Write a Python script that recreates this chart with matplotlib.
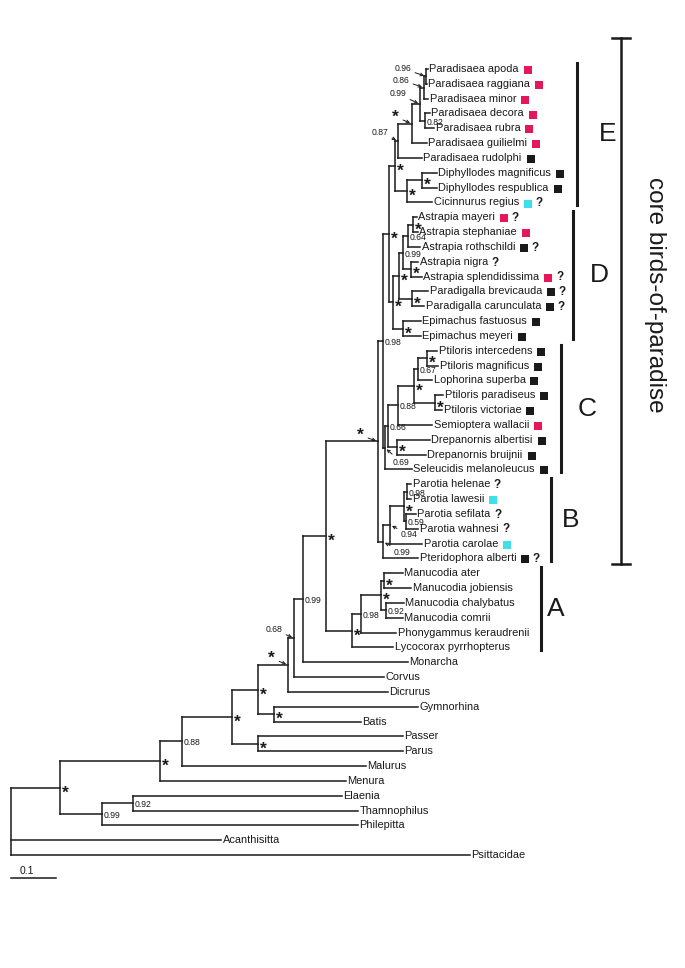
import matplotlib
matplotlib.use('Agg')
import matplotlib.pyplot as plt

# ---- data: tree (newick, branch lengths in substitutions/site) ----
clade_E = ("((((((Paradisaea apoda:0.0044,Paradisaea raggiana:0.0022)E5:0.0044,"
           "Paradisaea minor:0.0089)E4:0.0089,"
           "(Paradisaea decora:0.0111,Paradisaea rubra:0.0200)E6:0.0111)E3:0.0178,"
           "Paradisaea guilielmi:0.0333)E2:0.0311,"
           "Paradisaea rudolphi:0.0533)E1:0.0067,"
           "((Diphyllodes magnificus:0.0333,Diphyllodes respublica:0.0333)E8:0.0333,"
           "Cicinnurus regius:0.0556)E7:0.0267)E")
clade_D = ("(((((Astrapia mayeri:0.0089,Astrapia stephaniae:0.0111)D4:0.0111,"
           "Astrapia rothschildi:0.0267)D3:0.0111,"
           "(Astrapia nigra:0.0156,Astrapia splendidissima:0.0244)D5:0.0178)D2:0.0089,"
           "(Paradigalla brevicauda:0.0356,Paradigalla carunculata:0.0267)D6:0.0289)D1:0.0133,"
           "(Epimachus fastuosus:0.0400,Epimachus meyeri:0.0400)D7:0.0222)D")
clade_C = ("((((((Ptiloris intercedens:0.0222,Ptiloris magnificus:0.0244)C5:0.0200,"
           "Lophorina superba:0.0311)C4:0.0089,"
           "(Ptiloris paradiseus:0.0178,Ptiloris victoriae:0.0156)C6:0.0467)C3:0.0356,"
           "Semioptera wallacii:0.0756)C2:0.0222,"
           "(Drepanornis albertisi:0.0733,Drepanornis bruijnii:0.0644)C7:0.0200)C1:0.0067,"
           "Seleucidis melanoleucus:0.0600)C")
clade_B = ("((((Parotia helenae:0.0089,Parotia lawesii:0.0089)B3:0.0067,"
           "(Parotia sefilata:0.0222,Parotia wahnesi:0.0267)B4:0.0044)B2:0.0311,"
           "Parotia carolae:0.0711)B1:0.0156,"
           "Pteridophora alberti:0.0778)B")
clade_A = ("((((Manucodia ater:0.0422,Manucodia jobiensis:0.0600)A3:0.0067,"
           "(Manucodia chalybatus:0.0400,Manucodia comrii:0.0378)A4:0.0111)A2:0.0444,"
           "Phonygammus keraudrenii:0.0778)A1:0.0200,"
           "Lycocorax pyrrhopterus:0.0911)A")
core = ("(((" + clade_E + ":0.0133," + clade_D + ":0.0089)DE:0.0133,"
        + clade_C + ":0.0044)CDE:0.0111," + clade_B + ":0.0111)CORE")
tree = ("((((((((((" + core + ":0.1156," + clade_A + ":0.0578)N9:0.0511,"
        "Monarcha:0.2333)N8:0.0200,Corvus:0.2000)N7:0.0133,Dicrurus:0.2222)N6:0.0667,"
        "(Gymnorhina:0.3200,Batis:0.1933)N10:0.0356)N5:0.0578,"
        "(Passer:0.3222,Parus:0.3222)N11:0.0578)N4:0.1111,Malurus:0.4089)N3:0.0489,"
        "Menura:0.4133)N2:0.2222,"
        "((Elaenia:0.4644,Thamnophilus:0.5000)N13:0.0689,Philepitta:0.5689)N12:0.0933)N1:0.1089,"
        "Acanthisitta:0.4667,Psittacidae:1.0200)root;")

support = {'E5': '0.96', 'E4': '0.86', 'E3': '0.99', 'E2': '*', 'E1': '0.87', 'E6': '0.82',
           'E': '*', 'E7': '*', 'E8': '*', 'DE': '*', 'D': '*', 'D1': '*', 'D2': '0.99',
           'D3': '0.64', 'D4': '*', 'D5': '*', 'D6': '*', 'D7': '*', 'CDE': '0.98',
           'C': '0.69', 'C1': '0.66', 'C2': '0.88', 'C3': '*', 'C4': '0.67', 'C5': '*',
           'C6': '*', 'C7': '*', 'CORE': '*', 'B': '0.99', 'B1': '0.94', 'B2': '*',
           'B3': '0.98', 'B4': '0.59', 'A': '*', 'A1': '0.98', 'A2': '*', 'A3': '*',
           'A4': '0.92', 'N9': '*', 'N8': '0.99', 'N7': '0.68', 'N6': '*', 'N5': '*',
           'N10': '*', 'N11': '*', 'N4': '*', 'N3': '0.88', 'N2': '*', 'N1': '*',
           'N12': '0.99', 'N13': '0.92'}

red_sq = ['Paradisaea apoda', 'Paradisaea raggiana', 'Paradisaea minor', 'Paradisaea decora',
          'Paradisaea rubra', 'Paradisaea guilielmi', 'Astrapia mayeri', 'Astrapia stephaniae',
          'Astrapia splendidissima', 'Semioptera wallacii']
black_sq = ['Paradisaea rudolphi', 'Diphyllodes magnificus', 'Diphyllodes respublica',
            'Astrapia rothschildi', 'Paradigalla brevicauda', 'Paradigalla carunculata',
            'Epimachus fastuosus', 'Epimachus meyeri', 'Ptiloris intercedens',
            'Ptiloris magnificus', 'Lophorina superba', 'Ptiloris paradiseus',
            'Ptiloris victoriae', 'Drepanornis albertisi', 'Drepanornis bruijnii',
            'Seleucidis melanoleucus', 'Pteridophora alberti']
cyan_sq = ['Cicinnurus regius', 'Parotia lawesii', 'Parotia carolae']
query = ['Cicinnurus regius', 'Astrapia mayeri', 'Astrapia rothschildi', 'Astrapia nigra',
         'Astrapia splendidissima', 'Paradigalla brevicauda', 'Paradigalla carunculata',
         'Parotia helenae', 'Parotia sefilata', 'Parotia wahnesi', 'Pteridophora alberti']

# clade letter, first leaf, last leaf
clade_bars = [('E', 'Paradisaea apoda', 'Cicinnurus regius'),
              ('D', 'Astrapia mayeri', 'Epimachus meyeri'),
              ('C', 'Ptiloris intercedens', 'Seleucidis melanoleucus'),
              ('B', 'Parotia helenae', 'Pteridophora alberti'),
              ('A', 'Manucodia ater', 'Lycocorax pyrrhopterus')]
bar_x = {'E': 577, 'D': 573, 'C': 561, 'B': 551, 'A': 541}
letter_x = {'E': 599, 'D': 590, 'C': 578, 'B': 562, 'A': 547}

# labels with arrows: text offset from node in pixels (dx, dy down), ha
arrows = {'E5': (-15, -9.5, 'right'), 'E4': (-15, -9, 'right'), 'E3': (-14, -12, 'right'),
          'E2': (-13, -12, 'right'), 'E1': (-10, -10, 'right'), 'CORE': (-14, -11, 'right'),
          'N6': (-13, -12, 'right'), 'N7': (-12, -10, 'right'),
          'C': (8, 13, 'left'), 'B1': (11, 8, 'left'), 'B': (11, 9, 'left')}


def parse(s):
    pos = 0

    def node():
        nonlocal pos
        kids = []
        if s[pos] == '(':
            pos += 1
            while True:
                kids.append(node())
                c = s[pos]
                pos += 1
                if c == ')':
                    break
        start = pos
        while s[pos] not in ',():;':
            pos += 1
        name = s[start:pos]
        ln = 0.0
        if s[pos] == ':':
            pos += 1
            start = pos
            while s[pos] not in ',();':
                pos += 1
            ln = float(s[start:pos])
        return {'name': name, 'len': ln, 'kids': kids}
    return node()


root = parse(tree)
leaves = []


def layout(n, x0):
    n['x'] = x0 + n['len']
    if not n['kids']:
        n['y'] = len(leaves)
        leaves.append(n)
    else:
        for k in n['kids']:
            layout(k, n['x'])
        n['y'] = 0.5 * (n['kids'][0]['y'] + n['kids'][-1]['y'])


layout(root, 0.0)
nodes = []


def collect(n):
    nodes.append(n)
    for k in n['kids']:
        collect(k)


collect(root)
leaf = {n['name']: n for n in leaves}

W, H = 685, 968
PX = 450.0      # pixels per unit branch length
ROW = 14.83     # pixels per leaf
X0, Y0 = 11, 69
PT = 0.72       # points per pixel at dpi 100

plt.rcParams['font.family'] = ['Liberation Sans', 'DejaVu Sans']
fig = plt.figure(figsize=(W / 100, H / 100), dpi=100)
ax = fig.add_axes([0, 0, 1, 1])
ax.set_xlim(-X0 / PX, (W - X0) / PX)
ax.set_ylim((H - Y0) / ROW, -Y0 / ROW)
ax.axis('off')

lc = '#1a1a1a'
lw = 1.1
for n in nodes:
    if n['kids']:
        ax.plot([n['x'], n['x']], [n['kids'][0]['y'], n['kids'][-1]['y']],
                color=lc, lw=lw, solid_capstyle='projecting')
        for k in n['kids']:
            ax.plot([n['x'], k['x']], [k['y'], k['y']], color=lc, lw=lw,
                    solid_capstyle='projecting')

# support values
for n in nodes:
    lab = support.get(n['name'])
    if lab is None:
        continue
    star = lab == '*'
    fs = 12.5 if star else 6.2
    fw = 'bold' if star else 'normal'
    va = 'baseline' if star else 'center'
    sy = 9.8 if star else 1.5
    if n['name'] in arrows:
        dx, dy, ha = arrows[n['name']]
        ax.annotate(lab, xy=(n['x'], n['y']), xytext=(dx * PT, -(dy + sy) * PT),
                    textcoords='offset points', ha=ha, va=va, fontsize=fs,
                    fontweight=fw, color=lc,
                    arrowprops=dict(arrowstyle='->', lw=0.7, color=lc,
                                    shrinkA=1, shrinkB=1.5, mutation_scale=5))
    else:
        ax.annotate(lab, xy=(n['x'], n['y']), xytext=(2.0 * PT, -sy * PT),
                    textcoords='offset points', ha='left', va=va, fontsize=fs,
                    fontweight=fw, color=lc)

# leaf labels
texts = {}
for n in leaves:
    texts[n['name']] = ax.text(n['x'] + 1.5 / PX, n['y'], n['name'], fontsize=7.9,
                               va='center', ha='left', color=lc)

fig.canvas.draw()
rend = fig.canvas.get_renderer()
sq_col = {}
for nm in red_sq:
    sq_col[nm] = '#e3175a'
for nm in black_sq:
    sq_col[nm] = '#1a1a1a'
for nm in cyan_sq:
    sq_col[nm] = '#3ee0ea'
for n in leaves:
    nm = n['name']
    if nm not in sq_col and nm not in query:
        continue
    bb = texts[nm].get_window_extent(rend)
    xr = bb.x1
    if nm in sq_col:
        cx = xr + 5 + 3.8
        ax.plot((cx - X0) / PX, n['y'] + 0.07, 's', ms=5.6, mew=0, color=sq_col[nm])
        xr = cx + 3.8
    if nm in query:
        ax.text((xr + 4 - X0) / PX, n['y'] + 0.05, '?', fontsize=8.5, fontweight='bold',
                va='center', ha='left', color=lc)

# clade bars and letters
for let, a, b in clade_bars:
    y1 = leaf[a]['y'] - 0.4
    y2 = leaf[b]['y'] + 0.2
    xb = (bar_x[let] - X0) / PX
    ax.plot([xb, xb], [y1, y2], color=lc, lw=2.2)
    ax.text((letter_x[let] - X0) / PX, 0.5 * (y1 + y2), let, fontsize=19,
            ha='left', va='center', color=lc)

# core birds-of-paradise bracket
yb1 = leaf['Paradisaea apoda']['y'] - 2.1
yb2 = leaf['Pteridophora alberti']['y'] + 0.35
xb = (621 - X0) / PX
cap = 9 / PX
ax.plot([xb, xb], [yb1, yb2], color=lc, lw=1.8)
ax.plot([xb - cap, xb + cap], [yb1, yb1], color=lc, lw=1.8)
ax.plot([xb - cap, xb + cap], [yb2, yb2], color=lc, lw=1.8)
ax.text((655 - X0) / PX, 0.5 * (yb1 + yb2) - 0.4, 'core birds-of-paradise', fontsize=17.5,
        rotation=270, ha='center', va='center', color=lc)

# scale bar
ys = leaf['Psittacidae']['y'] + 1.55
ax.plot([0, 0.1], [ys, ys], color=lc, lw=1.1)
ax.text(0.036, ys - 0.45, '0.1', fontsize=7.5, ha='center', va='center', color=lc)

fig.savefig('out.png', dpi=100)
